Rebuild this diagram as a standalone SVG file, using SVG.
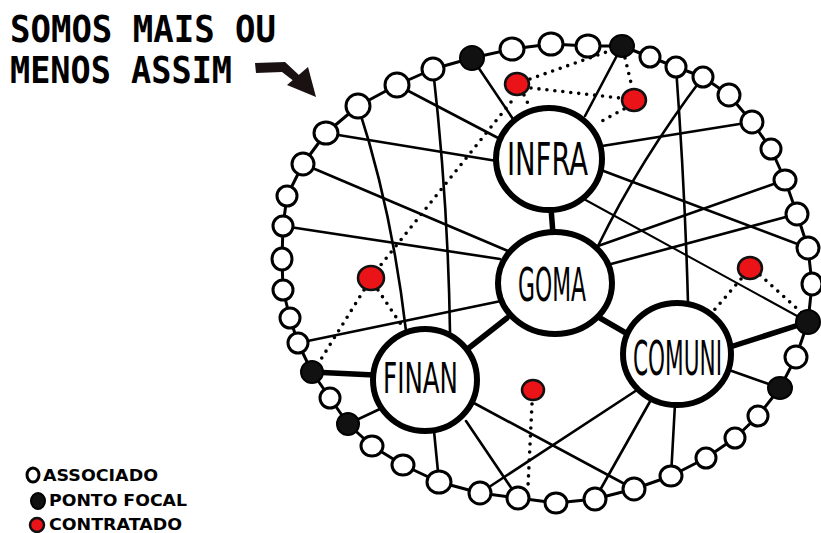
<svg xmlns="http://www.w3.org/2000/svg" width="821" height="533" viewBox="0 0 821 533">
  <style>
    .ring { fill: none; stroke: #000; stroke-width: 3; stroke-linejoin: round; }
    .w { fill: #fff; stroke: #000; stroke-width: 3; }
    .b { fill: #111; stroke: #000; stroke-width: 2; }
    .r { fill: #ea1318; stroke: #111; stroke-width: 2.5; }
    .big { fill: #fff; stroke: #000; stroke-width: 6; }
    .sp { fill: none; stroke: #000; stroke-width: 2.6; stroke-linecap: round; }
    .thin { stroke-width: 2; }
    .thick { stroke-width: 5.5; }
    .dot { fill: none; stroke: #000; stroke-width: 3.6; stroke-linecap: round; stroke-dasharray: 0 8; }
    .title { font-family: "DejaVu Sans Mono", "Liberation Mono", monospace; font-weight: bold; font-size: 38px; fill: #000; }
    .legend { font-family: "DejaVu Sans", "Liberation Sans", sans-serif; font-weight: bold; font-size: 15px; fill: #000; }
    .label { font-family: "DejaVu Sans Condensed", "DejaVu Sans", "Liberation Sans", sans-serif; fill: #000; }
  </style>

  <rect width="821" height="533" fill="#fff"/>

  <!-- heading and pointer -->
  <g id="heading">
    <text class="title" x="10" y="42" textLength="266" lengthAdjust="spacingAndGlyphs">SOMOS MAIS OU</text>
    <text class="title" x="10" y="83" textLength="222" lengthAdjust="spacingAndGlyphs">MENOS ASSIM</text>
    <path d="M255,63 L285,62 L300,76 L295,82 L282,72 L256,73 Z" fill="#1a1212"/>
    <polygon points="287,85 316,97 308,67" fill="#1a1212"/>
  </g>

  <!-- key -->
  <g id="legend">
    <ellipse class="w" cx="33" cy="475" rx="6" ry="7" stroke-width="2.5"/>
    <ellipse class="b" cx="38" cy="501" rx="7" ry="8"/>
    <ellipse class="r" cx="37" cy="525" rx="7" ry="7"/>
    <text class="legend" x="43" y="481" textLength="115" lengthAdjust="spacingAndGlyphs">ASSOCIADO</text>
    <text class="legend" x="49" y="506" textLength="138" lengthAdjust="spacingAndGlyphs">PONTO FOCAL</text>
    <text class="legend" x="49" y="530" textLength="133" lengthAdjust="spacingAndGlyphs">CONTRATADO</text>
  </g>

  <!-- connectors -->
  <g id="connectors">
    <path class="ring" d="M433,69 L472,58 L512,49 L551,44 L588,46 L622,46 L650,57 L676,67 L703,77 L729,95 L752,122 L771,149 L785,180 L797,214 L808,248 L812,284 L808,322 L796,357 L780,388 L758,416 L735,438 L706,458 L671,476 L634,489 L595,499 L556,503 L518,498 L480,493 L439,482 L403,465 L372,446 L348,424 L330,398 L312,372 L298,343 L290,318 L283,290 L282,259 L283,226 L287,196 L303,164 L326,133 L358,106 L397,85 Z"/>

    <!-- hub links -->
    <line class="sp thick" x1="551" y1="208" x2="553" y2="234"/>
    <line class="sp thick" x1="507" y1="318" x2="465" y2="351"/>
    <line class="sp thick" x1="600" y1="318" x2="638" y2="340"/>
    <line class="sp thick" x1="312" y1="372" x2="374" y2="375"/>
    <line class="sp thick" x1="808" y1="322" x2="730" y2="347"/>

    <!-- spokes -->
    <line class="sp" x1="472" y1="58" x2="513" y2="119"/>
    <line class="sp" x1="622" y1="46" x2="585" y2="116"/>
    <line class="sp" x1="397" y1="85" x2="500" y2="139"/>
    <line class="sp" x1="326" y1="133" x2="497" y2="161"/>
    <line class="sp" x1="303" y1="164" x2="508" y2="251"/>
    <line class="sp" x1="283" y1="226" x2="500" y2="259"/>
    <line class="sp" x1="298" y1="343" x2="501" y2="301"/>
    <path class="sp" d="M358,106 Q392,210 406,331"/>
    <path class="sp" d="M433,69 Q448,200 450,332"/>
    <line class="sp" x1="602" y1="146" x2="752" y2="122"/>
    <line class="sp" x1="601" y1="170" x2="808" y2="248"/>
    <line class="sp thin" x1="582" y1="198" x2="808" y2="322"/>
    <line class="sp" x1="598" y1="246" x2="785" y2="180"/>
    <line class="sp" x1="611" y1="264" x2="797" y2="214"/>
    <path class="sp" d="M703,77 Q640,160 598,246"/>
    <path class="sp" d="M676,67 Q685,190 688,303"/>
    <line class="sp" x1="729" y1="370" x2="780" y2="388"/>
    <line class="sp" x1="637" y1="390" x2="480" y2="493"/>
    <line class="sp" x1="652" y1="398" x2="595" y2="499"/>
    <line class="sp" x1="675" y1="404" x2="671" y2="476"/>
    <line class="sp" x1="472" y1="402" x2="634" y2="489"/>
    <line class="sp" x1="466" y1="421" x2="518" y2="498"/>
    <line class="sp" x1="434" y1="431" x2="439" y2="482"/>
    <line class="sp" x1="348" y1="424" x2="382" y2="408"/>

    <!-- dotted links to hired staff -->
    <line class="dot" x1="530" y1="79" x2="612" y2="50"/>
    <line class="dot" x1="531" y1="88" x2="620" y2="98"/>
    <line class="dot" x1="524" y1="95" x2="530" y2="108"/>
    <line class="dot" x1="625" y1="58" x2="632" y2="87"/>
    <line class="dot" x1="624" y1="109" x2="600" y2="122"/>
    <line class="dot" x1="511" y1="102" x2="380" y2="266"/>
    <line class="dot" x1="364" y1="290" x2="318" y2="364"/>
    <line class="dot" x1="378" y1="290" x2="404" y2="329"/>
    <line class="dot" x1="741" y1="279" x2="710" y2="315"/>
    <line class="dot" x1="760" y1="275" x2="802" y2="313"/>
    <line class="dot" x1="532" y1="404" x2="528" y2="486"/>
  </g>

  <!-- ring of members -->
  <g id="ring">
    <g id="m01"><ellipse class="w" cx="433" cy="69" rx="11" ry="11"/></g>
    <g id="m02"><ellipse class="b" cx="472" cy="58" rx="12" ry="12"/></g>
    <g id="m03"><ellipse class="w" cx="512" cy="49" rx="12" ry="11"/></g>
    <g id="m04"><ellipse class="w" cx="551" cy="44" rx="12" ry="11"/></g>
    <g id="m05"><ellipse class="w" cx="588" cy="46" rx="12" ry="11"/></g>
    <g id="m06"><ellipse class="b" cx="622" cy="46" rx="12" ry="11"/></g>
    <g id="m07"><ellipse class="w" cx="650" cy="57" rx="10" ry="10"/></g>
    <g id="m08"><ellipse class="w" cx="676" cy="67" rx="10" ry="10"/></g>
    <g id="m09"><ellipse class="w" cx="703" cy="77" rx="10" ry="10"/></g>
    <g id="m10"><ellipse class="w" cx="729" cy="95" rx="11" ry="11"/></g>
    <g id="m11"><ellipse class="w" cx="752" cy="122" rx="11" ry="11"/></g>
    <g id="m12"><ellipse class="w" cx="771" cy="149" rx="10" ry="10"/></g>
    <g id="m13"><ellipse class="w" cx="785" cy="180" rx="11" ry="10"/></g>
    <g id="m14"><ellipse class="w" cx="797" cy="214" rx="11" ry="11"/></g>
    <g id="m15"><ellipse class="w" cx="808" cy="248" rx="11" ry="11"/></g>
    <g id="m16"><ellipse class="w" cx="812" cy="284" rx="10" ry="11"/></g>
    <g id="m17"><ellipse class="b" cx="808" cy="322" rx="12" ry="12"/></g>
    <g id="m18"><ellipse class="w" cx="796" cy="357" rx="11" ry="11"/></g>
    <g id="m19"><ellipse class="b" cx="780" cy="388" rx="12" ry="11"/></g>
    <g id="m20"><ellipse class="w" cx="758" cy="416" rx="10" ry="10"/></g>
    <g id="m21"><ellipse class="w" cx="735" cy="438" rx="10" ry="10"/></g>
    <g id="m22"><ellipse class="w" cx="706" cy="458" rx="10" ry="10"/></g>
    <g id="m23"><ellipse class="w" cx="671" cy="476" rx="11" ry="10"/></g>
    <g id="m24"><ellipse class="w" cx="634" cy="489" rx="11" ry="11"/></g>
    <g id="m25"><ellipse class="w" cx="595" cy="499" rx="11" ry="11"/></g>
    <g id="m26"><ellipse class="w" cx="556" cy="503" rx="11" ry="10"/></g>
    <g id="m27"><ellipse class="w" cx="518" cy="498" rx="11" ry="11"/></g>
    <g id="m28"><ellipse class="w" cx="480" cy="493" rx="11" ry="11"/></g>
    <g id="m29"><ellipse class="w" cx="439" cy="482" rx="12" ry="11"/></g>
    <g id="m30"><ellipse class="w" cx="403" cy="465" rx="11" ry="10"/></g>
    <g id="m31"><ellipse class="w" cx="372" cy="446" rx="11" ry="10"/></g>
    <g id="m32"><ellipse class="b" cx="348" cy="424" rx="11" ry="11"/></g>
    <g id="m33"><ellipse class="w" cx="330" cy="398" rx="10" ry="10"/></g>
    <g id="m34"><ellipse class="b" cx="312" cy="372" rx="11" ry="11"/></g>
    <g id="m35"><ellipse class="w" cx="298" cy="343" rx="10" ry="10"/></g>
    <g id="m36"><ellipse class="w" cx="290" cy="318" rx="10" ry="10"/></g>
    <g id="m37"><ellipse class="w" cx="283" cy="290" rx="10" ry="10"/></g>
    <g id="m38"><ellipse class="w" cx="282" cy="259" rx="10" ry="11"/></g>
    <g id="m39"><ellipse class="w" cx="283" cy="226" rx="10" ry="10"/></g>
    <g id="m40"><ellipse class="w" cx="287" cy="196" rx="10" ry="10"/></g>
    <g id="m41"><ellipse class="w" cx="303" cy="164" rx="11" ry="11"/></g>
    <g id="m42"><ellipse class="w" cx="326" cy="133" rx="12" ry="11"/></g>
    <g id="m43"><ellipse class="w" cx="358" cy="106" rx="12" ry="12"/></g>
    <g id="m44"><ellipse class="w" cx="397" cy="85" rx="12" ry="12"/></g>
  </g>

  <!-- hired staff -->
  <g id="hired">
    <g id="h1"><ellipse class="r" cx="517" cy="84" rx="12" ry="11"/></g>
    <g id="h2"><ellipse class="r" cx="634" cy="100" rx="12" ry="11"/></g>
    <g id="h3"><ellipse class="r" cx="371" cy="278" rx="13" ry="12"/></g>
    <g id="h4"><ellipse class="r" cx="750" cy="268" rx="12" ry="11"/></g>
    <g id="h5"><ellipse class="r" cx="533" cy="390" rx="11" ry="10"/></g>
  </g>

  <!-- working groups -->
  <g id="infra">
    <ellipse class="big" cx="549" cy="159" rx="53" ry="51"/>
    <text class="label" x="507" y="175" font-size="44" textLength="81" lengthAdjust="spacingAndGlyphs">INFRA</text>
  </g>
  <g id="goma">
    <ellipse class="big" cx="555" cy="283" rx="57" ry="51"/>
    <text class="label" x="518" y="301" font-size="46" textLength="68" lengthAdjust="spacingAndGlyphs">GOMA</text>
  </g>
  <g id="finan">
    <ellipse class="big" cx="425" cy="380" rx="52" ry="51"/>
    <text class="label" x="383" y="393" font-size="42" textLength="75" lengthAdjust="spacingAndGlyphs">FINAN</text>
  </g>
  <g id="comuni">
    <ellipse class="big" cx="677" cy="354" rx="54" ry="51"/>
    <text class="label" x="633" y="375" font-size="48" textLength="89" lengthAdjust="spacingAndGlyphs">COMUNI</text>
  </g>
</svg>
